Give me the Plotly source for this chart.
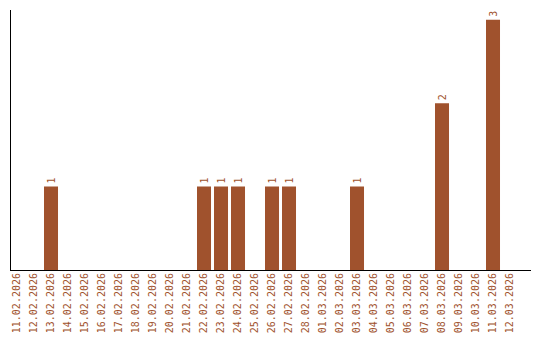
import plotly.graph_objects as go

dates = ["11.02.2026","12.02.2026","13.02.2026","14.02.2026","15.02.2026","16.02.2026",
         "17.02.2026","18.02.2026","19.02.2026","20.02.2026","21.02.2026","22.02.2026",
         "23.02.2026","24.02.2026","25.02.2026","26.02.2026","27.02.2026","28.02.2026",
         "01.03.2026","02.03.2026","03.03.2026","04.03.2026","05.03.2026","06.03.2026",
         "07.03.2026","08.03.2026","09.03.2026","10.03.2026","11.03.2026","12.03.2026"]
counts = [0,0,1,0,0,0,0,0,0,0,0,1,1,1,0,1,1,0,0,0,1,0,0,0,0,2,0,0,3,0]

color = "#A0522D"
labels = [str(c) if c > 0 else "" for c in counts]

fig = go.Figure(go.Bar(
    x=dates, y=counts, marker_color=color, marker_line_width=0,
    text=labels, textposition="outside", textangle=-90,
    textfont=dict(family="DejaVu Sans Mono", size=10, color=color),
    cliponaxis=False,
))
fig.update_layout(
    width=540, height=340,
    margin=dict(l=11, r=9, t=10, b=70, autoexpand=False),
    paper_bgcolor="white", plot_bgcolor="white",
    bargap=0.176, showlegend=False,
    font=dict(family="DejaVu Sans Mono", size=10, color=color),
)
fig.update_xaxes(type="category", tickangle=-90, showline=True, linecolor="black",
                 linewidth=1, ticks="", showgrid=False, automargin=False,
                 range=[-0.353, 30.235], ticklabelstandoff=-2,
                 tickfont=dict(family="DejaVu Sans Mono", size=10, color=color))
fig.update_yaxes(range=[0, 3.117], showline=True, linecolor="black", linewidth=1,
                 showticklabels=False, ticks="", showgrid=False, zeroline=False,
                 automargin=False)
fig.write_html("out.html")
